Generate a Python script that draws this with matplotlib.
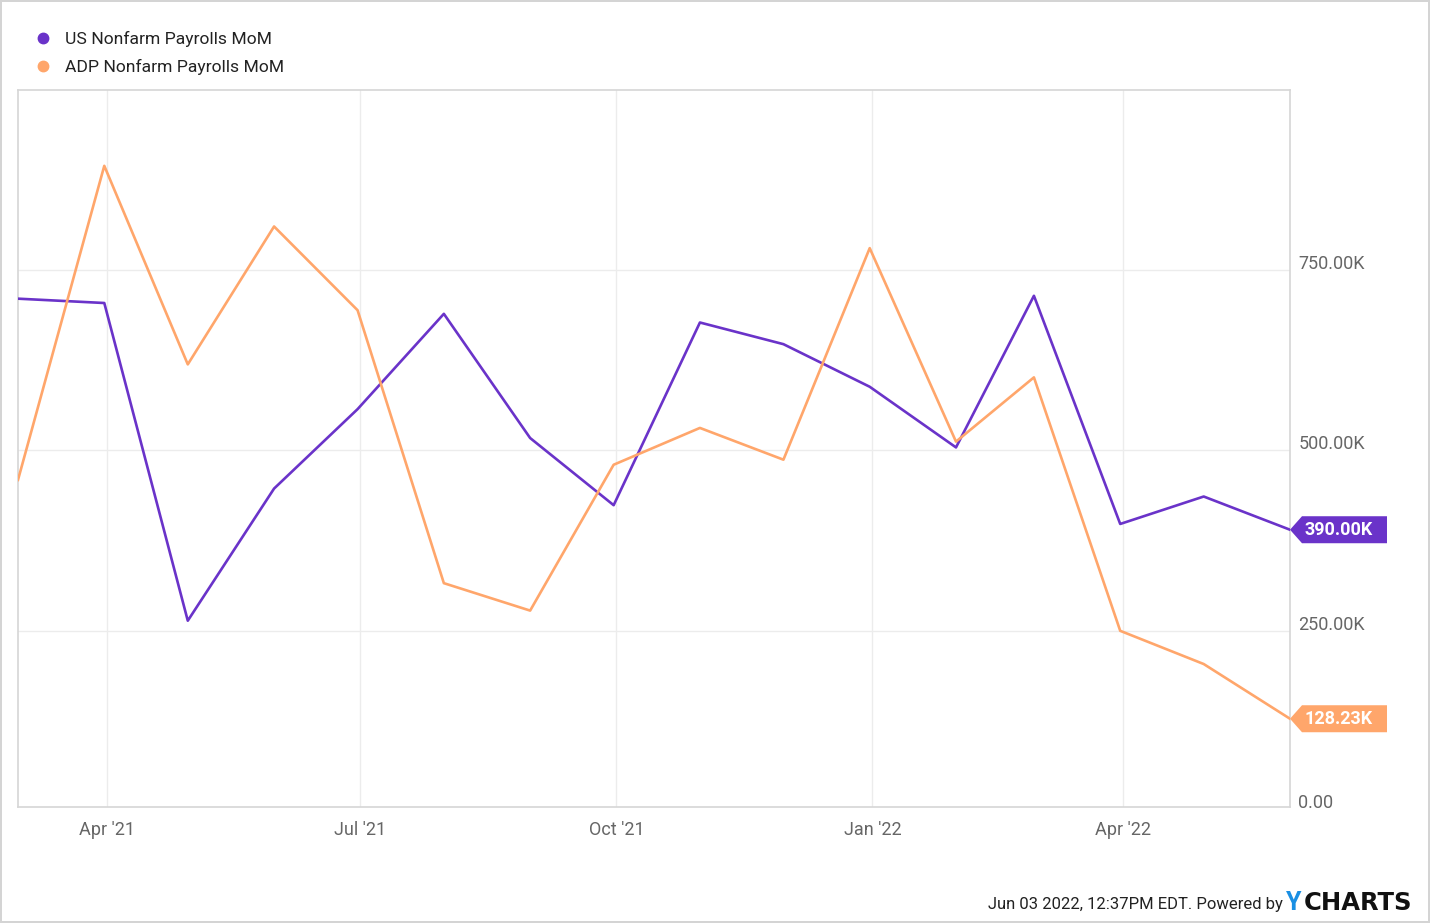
import matplotlib
matplotlib.use("Agg")
import matplotlib.pyplot as plt
import matplotlib.dates as mdates
import matplotlib.transforms as mtransforms
from matplotlib.patches import Polygon
from matplotlib.lines import Line2D
import pandas as pd

plt.rcParams['font.family'] = ['Roboto', 'DejaVu Sans']

# month-end dates of each reading
dates = pd.date_range("2021-02-28", "2022-05-31", freq="ME")
us_nfp = [710, 704, 264, 447, 557, 689, 517, 424, 677, 647, 588, 504, 714, 398, 436, 390.00]
adp_nfp = [459, 894, 619, 810, 694, 316, 278, 480, 531, 487, 780, 512, 601, 250, 204, 128.23]
us_label = "US Nonfarm Payrolls MoM"
adp_label = "ADP Nonfarm Payrolls MoM"
ytick_vals = [0, 250, 500, 750]
ytick_text = ["0.00", "250.00K", "500.00K", "750.00K"]
xtick_dates = pd.to_datetime(["2021-04-01", "2021-07-01", "2021-10-01", "2022-01-01", "2022-04-01"])
xtick_text = ["Apr '21", "Jul '21", "Oct '21", "Jan '22", "Apr '22"]

purple = '#6a33c9'
orange = '#ffa66b'

fig = plt.figure(figsize=(14.3, 9.23), dpi=100)
fig.patch.set_edgecolor('#d4d4d4')
fig.patch.set_linewidth(1.5)
ax = fig.add_axes([18/1430, 1 - 807/923, 1272/1430, 717/923])

ax.plot(dates, us_nfp, color=purple, lw=1.9, zorder=3)
ax.plot(dates, adp_nfp, color=orange, lw=1.9, zorder=3)

ax.set_xlim(dates[0], dates[-1])
ax.set_ylim(6, 999)  # zero line sits just under the frame

ax.set_xticks(xtick_dates)
ax.set_xticklabels(xtick_text)
ax.set_yticks(ytick_vals[1:])
ax.set_yticklabels(ytick_text[1:])
ax.yaxis.tick_right()
ax.tick_params(axis='both', length=0, labelsize=13, labelcolor='#666666')
ax.tick_params(axis='x', pad=10)
ax.tick_params(axis='y', pad=6)
# y labels sit a bit above their gridline
up = mtransforms.ScaledTranslation(0, 8/100, fig.dpi_scale_trans)
for lab in ax.get_yticklabels():
    lab.set_transform(lab.get_transform() + up)
# the zero label falls outside the view, draw it by hand
zero_tr = mtransforms.blended_transform_factory(ax.transAxes, ax.transData) + \
    mtransforms.ScaledTranslation(6/72, 8/100, fig.dpi_scale_trans)
ax.text(1, ytick_vals[0], ytick_text[0], transform=zero_tr, ha='left', va='center',
        fontsize=13, color='#666666', clip_on=False)

ax.grid(True, color='#ececec', lw=1)
ax.set_axisbelow(True)
for s in ax.spines.values():
    s.set_color('#d6d6d6')
    s.set_linewidth(1.2)

# end-value tags
for vals, col in [(us_nfp, purple), (adp_nfp, orange)]:
    tr = fig.dpi_scale_trans + mtransforms.ScaledTranslation(
        mdates.date2num(dates[-1]), vals[-1], ax.transData)
    h = 0.135
    poly = Polygon([(0, 0), (0.12, h), (0.97, h), (0.97, -h), (0.12, -h)],
                   closed=True, transform=tr, facecolor=col, edgecolor='none',
                   clip_on=False, zorder=5)
    ax.add_patch(poly)
    ax.text(0.49, -0.005, f"{vals[-1]:.2f}K", transform=tr, ha='center', va='center',
            color='white', fontsize=13, fontweight='bold', zorder=6)

# legend
handles = [Line2D([], [], ls='none', marker='o', ms=7.5, color=purple),
           Line2D([], [], ls='none', marker='o', ms=7.5, color=orange)]
fig.legend(handles, [us_label, adp_label], loc='upper left',
           bbox_to_anchor=(10/1430, 1 - 15/923), frameon=False, fontsize=12.6,
           handletextpad=0.25, labelspacing=0.72, labelcolor='#222222')

# footer
fig.text(1283/1430, 1 - 904/923, "Jun 03 2022, 12:37PM EDT. Powered by", ha='right',
         va='center', fontsize=12, color='#222222')
fig.text(1286/1430, 1 - 903/923, "Y", ha='left', va='center', fontsize=18,
         fontweight='bold', color='#1a8fe3')
fig.text(1304/1430, 1 - 903/923, "CHARTS", ha='left', va='center', fontsize=17.5,
         fontweight='bold', color='#111111', family='DejaVu Sans')

fig.savefig("out.png", dpi=100, edgecolor=fig.get_edgecolor())
